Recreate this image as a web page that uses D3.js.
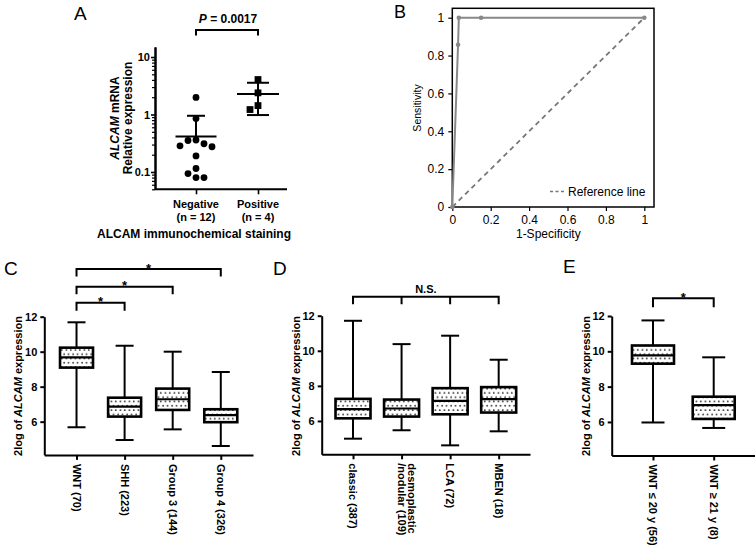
<!DOCTYPE html>
<html><head><meta charset="utf-8">
<script src="https://cdn.jsdelivr.net/npm/d3@7"></script>
<style>body{margin:0;background:#fff}svg{display:block}</style>
</head><body>
<svg id="fig" width="755" height="546"></svg>
<script>
// ---------------- DATA ----------------
// Panel A
const aGroups = ["Negative", "Positive"];
const aGroupN = ["(n = 12)", "(n = 4)"];
const aNegative = [1.98, 0.85, 0.353, 0.285, 0.275, 0.31, 0.36, 0.19, 0.115, 0.094, 0.08, 0.08];
const aPositive = [4.06, 2.38, 1.43, 1.22];
const aYTicks = [0.1, 1, 10];
const aPText = "0.0017";
// Panel B
const rocFPR = [0, 0.03, 0.034, 0.15, 1];
const rocTPR = [0, 0.857, 1, 1, 1];
const rocTicks = [0, 0.2, 0.4, 0.6, 0.8, 1];
// Panel C
const cCats = ["WNT (70)", "SHH (223)", "Group 3 (144)", "Group 4 (326)"];
const cMin = [5.68, 4.95, 5.56, 4.61];
const cQ1  = [9.09, 6.29, 6.67, 5.97];
const cMed = [9.68, 6.86, 7.28, 6.37];
const cQ3  = [10.23, 7.37, 7.89, 6.71];
const cMax = [11.68, 10.34, 10.0, 8.84];
// Panel D
const dCats = ["classic (387)", "desmoplastic\n/nodular (109)", "LCA (72)", "MBEN (18)"];
const dMin = [4.99, 5.47, 4.61, 5.41];
const dQ1  = [6.15, 6.25, 6.38, 6.48];
const dMed = [6.67, 6.71, 7.14, 7.24];
const dQ3  = [7.26, 7.22, 7.87, 7.93];
const dMax = [11.71, 10.38, 10.86, 9.49];
// Panel E
const eCats = ["WNT \u2264 20 y (56)", "WNT \u2265 21 y (8)"];
const eMin = [5.97, 5.66];
const eQ1  = [9.30, 6.17];
const eMed = [9.77, 6.95];
const eQ3  = [10.33, 7.43];
const eMax = [11.75, 9.66];
const boxYTicks = [6, 8, 10, 12];

// ---------------- DRAWING ----------------
const FONT = '"Liberation Sans", Arial, Helvetica, sans-serif';
const svg = d3.select("#fig").attr("font-family", FONT);

const defs = svg.append("defs");
const pat = defs.append("pattern").attr("id", "dots").attr("patternUnits", "userSpaceOnUse")
  .attr("width", 4.5).attr("height", 8.6);
pat.append("rect").attr("width", 4.5).attr("height", 8.6).attr("fill", "#fff");
pat.append("circle").attr("cx", 1.1).attr("cy", 1.6).attr("r", 0.8).attr("fill", "#111");
pat.append("circle").attr("cx", 3.35).attr("cy", 5.9).attr("r", 0.8).attr("fill", "#111");

function styleAxis(g, fs, bold, sw, tsw) {
  g.attr("font-family", FONT);
  g.selectAll("text").attr("font-size", fs).attr("font-weight", bold ? "bold" : "normal").attr("fill", "#000");
  g.select(".domain").attr("stroke-width", sw).attr("stroke", "#000");
  g.selectAll(".tick line").attr("stroke-width", tsw).attr("stroke", "#000");
}
function panelLabel(t, x, y, size) {
  svg.append("text").attr("x", x).attr("y", y).attr("font-size", size || 19).text(t);
}

// ===== Panel A =====
panelLabel("A", 74, 20, 19);
const gA = svg.append("g");
const ay = d3.scaleLog().domain([0.05, 15]).range([189.3, 46.9]);
const ax = d3.scalePoint().domain(aGroups).range([196, 258]);
const isMajor = t => aYTicks.some(m => Math.abs(m - t) / m < 1e-6);
const gAminor = gA.append("g").attr("transform", "translate(155,0)")
  .call(d3.axisLeft(ay).tickValues(ay.ticks().filter(t => !isMajor(t))).tickSize(3).tickSizeOuter(0).tickFormat(""));
styleAxis(gAminor, 11, true, 2, 1.2);
const gAmajor = gA.append("g").attr("transform", "translate(155,0)")
  .call(d3.axisLeft(ay).tickValues(aYTicks).tickSize(4).tickPadding(1).tickSizeOuter(0).tickFormat(d => String(d)));
styleAxis(gAmajor, 11, true, 2, 1.6);
const gAx = gA.append("g").attr("transform", "translate(0,189.3)")
  .call(d3.axisBottom(ax).tickSize(5).tickSizeOuter(0).tickFormat(""));
gAx.select(".domain").remove();
styleAxis(gAx, 11, true, 2, 1.6);
gA.append("line").attr("x1", 155).attr("x2", 287).attr("y1", 189.3).attr("y2", 189.3)
  .attr("stroke", "#000").attr("stroke-width", 2);
aGroups.forEach((g, i) => {
  gA.append("text").attr("x", ax(g)).attr("y", 208).attr("text-anchor", "middle")
    .attr("font-size", 11).attr("font-weight", "bold").text(g);
  gA.append("text").attr("x", ax(g)).attr("y", 220.5).attr("text-anchor", "middle")
    .attr("font-size", 11).attr("font-weight", "bold").text(aGroupN[i]);
});
const aXT = gA.append("text").attr("x", 194).attr("y", 238).attr("text-anchor", "middle")
  .attr("font-size", 12).attr("font-weight", "bold");
aXT.append("tspan").text("ALCAM immunochemical staining");
const aYT = gA.append("text").attr("transform", "translate(121,118) rotate(-90)")
  .attr("text-anchor", "middle").attr("font-size", 12).attr("font-weight", "bold");
const l1 = aYT.append("tspan").attr("x", 0).attr("dy", "-0.15em");
l1.append("tspan").attr("font-style", "italic").text("ALCAM");
l1.append("tspan").text(" mRNA");
aYT.append("tspan").attr("x", 0).attr("dy", "1.05em").text("Relative expression");

function swarm(values, cx, scale, step, thr) {
  const order = values.slice().sort((a, b) => b - a);
  const placed = [];
  const cands = [0, -1, 1, -2, 2, -3, 3];
  order.forEach(v => {
    const y = scale(v);
    for (const c of cands) {
      const x = cx + c * step;
      if (!placed.some(p => Math.abs(p.x - x) < step * 0.9 && Math.abs(p.y - y) < thr)) {
        placed.push({ x, y, v }); break;
      }
    }
  });
  return placed;
}
function meanSD(vals, cx, halfMean, halfCap) {
  const m = d3.mean(vals), s = d3.deviation(vals);
  const hi = m + s, lo = m - s;
  const yLo = lo > ay.domain()[0] ? ay(lo) : ay(m);
  gA.append("line").attr("x1", cx).attr("x2", cx).attr("y1", ay(hi)).attr("y2", yLo)
    .attr("stroke", "#000").attr("stroke-width", 2);
  gA.append("line").attr("x1", cx - halfMean).attr("x2", cx + halfMean).attr("y1", ay(m)).attr("y2", ay(m))
    .attr("stroke", "#000").attr("stroke-width", 2);
  gA.append("line").attr("x1", cx - halfCap).attr("x2", cx + halfCap).attr("y1", ay(hi)).attr("y2", ay(hi))
    .attr("stroke", "#000").attr("stroke-width", 2);
  if (lo > ay.domain()[0]) {
    gA.append("line").attr("x1", cx - halfCap).attr("x2", cx + halfCap).attr("y1", ay(lo)).attr("y2", ay(lo))
      .attr("stroke", "#000").attr("stroke-width", 2);
  }
}
swarm(aNegative, ax("Negative"), ay, 8, 7).forEach(p => {
  gA.append("circle").attr("cx", p.x).attr("cy", p.y).attr("r", 3.4).attr("fill", "#000");
});
swarm(aPositive, ax("Positive"), ay, 8, 7).forEach(p => {
  gA.append("rect").attr("x", p.x - 3.4).attr("y", p.y - 3.4).attr("width", 6.8).attr("height", 6.8).attr("fill", "#000");
});
meanSD(aNegative, ax("Negative"), 20.5, 9);
meanSD(aPositive, ax("Positive"), 21, 11);
gA.append("path").attr("d", `M${ax("Negative")},35.5V30H${ax("Positive")}V35.5`)
  .attr("fill", "none").attr("stroke", "#000").attr("stroke-width", 2);
const pt = gA.append("text").attr("x", (ax("Negative") + ax("Positive")) / 2 + 1).attr("y", 23)
  .attr("text-anchor", "middle").attr("font-size", 12).attr("font-weight", "bold");
pt.append("tspan").attr("font-style", "italic").text("P");
pt.append("tspan").text(" = " + aPText);

// ===== Panel B =====
panelLabel("B", 394, 18, 18);
const gB = svg.append("g");
const bx = d3.scaleLinear().domain([0, 1]).range([452.3, 644.3]);
const by = d3.scaleLinear().domain([0, 1]).range([207, 17.7]);
gB.append("rect").attr("x", bx(0)).attr("y", 8.3).attr("width", 654 - bx(0)).attr("height", by(0) - 8.3)
  .attr("fill", "none").attr("stroke", "#000").attr("stroke-width", 1.5);
const gBx = gB.append("g").attr("transform", `translate(0,${by(0)})`)
  .call(d3.axisBottom(bx).tickValues(rocTicks).tickSize(4).tickPadding(4).tickFormat(d => String(d)));
gBx.select(".domain").remove();
styleAxis(gBx, 12, false, 1.5, 1.2);
const gBy = gB.append("g").attr("transform", `translate(${bx(0)},0)`)
  .call(d3.axisLeft(by).tickValues(rocTicks).tickSize(4).tickPadding(4).tickFormat(d => String(d)));
gBy.select(".domain").remove();
styleAxis(gBy, 12, false, 1.5, 1.2);
gB.append("line").attr("x1", bx(0)).attr("y1", by(0)).attr("x2", bx(1)).attr("y2", by(1))
  .attr("stroke", "#777").attr("stroke-width", 1.8).attr("stroke-dasharray", "5,4");
const rocPts = rocFPR.map((f, i) => [f, rocTPR[i]]);
gB.append("path").datum(rocPts).attr("d", d3.line().x(d => bx(d[0])).y(d => by(d[1])))
  .attr("fill", "none").attr("stroke", "#888").attr("stroke-width", 2);
gB.selectAll("circle.roc").data(rocPts).join("circle").attr("class", "roc")
  .attr("cx", d => bx(d[0])).attr("cy", d => by(d[1])).attr("r", 2.3).attr("fill", "#888");
gB.append("text").attr("transform", "translate(417,108) rotate(-90)").attr("text-anchor", "middle")
  .attr("dominant-baseline", "central").attr("font-size", 10.5).text("Sensitivity");
gB.append("text").attr("x", (bx(0) + bx(1)) / 2).attr("y", 238).attr("text-anchor", "middle")
  .attr("font-size", 12).text("1-Specificity");
gB.append("line").attr("x1", 550).attr("x2", 564).attr("y1", 191.5).attr("y2", 191.5)
  .attr("stroke", "#777").attr("stroke-width", 1.6).attr("stroke-dasharray", "3,2.5");
gB.append("text").attr("x", 568).attr("y", 195.8).attr("font-size", 12).text("Reference line");

// ===== Box panels =====
function boxPanel(o) {
  const g = svg.append("g");
  const y = d3.scaleLinear().domain([4.1, 12]).range([o.yBottom, o.y12]);
  const x = d3.scalePoint().domain(o.cats).range([o.axisX, o.axisEnd]).padding(o.pad);
  const gy = g.append("g").attr("transform", `translate(${o.axisX},0)`)
    .call(d3.axisLeft(y).tickValues(boxYTicks).tickSize(4).tickPadding(3).tickSizeOuter(0));
  styleAxis(gy, 11, true, 2, 2);
  const gx = g.append("g").attr("transform", `translate(0,${o.yBottom})`)
    .call(d3.axisBottom(x).tickSize(5).tickSizeOuter(0).tickFormat(""));
  styleAxis(gx, 11, true, 2, 2);
  o.cats.forEach((c, i) => {
    const cx = x(c);
    g.append("line").attr("x1", cx).attr("x2", cx).attr("y1", y(o.max[i])).attr("y2", y(o.min[i]))
      .attr("stroke", "#000").attr("stroke-width", 2);
    [o.max[i], o.min[i]].forEach(v => {
      g.append("line").attr("x1", cx - o.capW / 2).attr("x2", cx + o.capW / 2).attr("y1", y(v)).attr("y2", y(v))
        .attr("stroke", "#000").attr("stroke-width", 2);
    });
    g.append("rect").attr("x", cx - o.boxW / 2).attr("y", y(o.q3[i])).attr("width", o.boxW)
      .attr("height", y(o.q1[i]) - y(o.q3[i])).attr("fill", "url(#dots)").attr("stroke", "#000").attr("stroke-width", 2.6);
    g.append("line").attr("x1", cx - o.boxW / 2).attr("x2", cx + o.boxW / 2).attr("y1", y(o.med[i])).attr("y2", y(o.med[i]))
      .attr("stroke", "#000").attr("stroke-width", 2.2);
    const lines = c.split("\n");
    const t = g.append("text").attr("transform", `translate(${cx},${o.yBottom + 9}) rotate(90)`)
      .attr("font-size", 11).attr("font-weight", "bold").attr("dominant-baseline", "central");
    lines.forEach((ln, k) => {
      t.append("tspan").attr("x", 0).attr("y", -(lines.length - 1 - k) * 10.5).text(ln);
    });
  });
  const yl = g.append("text").attr("transform", `translate(${o.axisX - 26},386) rotate(-90)`)
    .attr("text-anchor", "middle").attr("dominant-baseline", "central").attr("font-size", 11).attr("font-weight", "bold");
  yl.append("tspan").text("2log of ");
  yl.append("tspan").attr("font-style", "italic").text("ALCAM");
  yl.append("tspan").text(" expression");
  o.brackets.forEach(b => {
    const xs = b.cats.map(k => x(o.cats[k]));
    let d = `M${xs[0]},${b.y + b.drop}V${b.y}H${xs[xs.length - 1]}V${b.y + b.drop}`;
    xs.slice(1, -1).forEach(xx => { d += `M${xx},${b.y}V${b.y + b.drop}`; });
    g.append("path").attr("d", d).attr("fill", "none").attr("stroke", "#000").attr("stroke-width", 2);
    const mid = (xs[0] + xs[xs.length - 1]) / 2;
    if (b.label === "*") {
      g.append("text").attr("x", mid).attr("y", b.y + 3.5).attr("text-anchor", "middle")
        .attr("font-size", 13).attr("font-weight", "bold").text("*");
    } else {
      g.append("text").attr("x", mid).attr("y", b.y - 4).attr("text-anchor", "middle")
        .attr("font-size", 11).attr("font-weight", "bold").text(b.label);
    }
  });
}

panelLabel("C", 4, 275, 19);
boxPanel({ cats: cCats, min: cMin, q1: cQ1, med: cMed, q3: cQ3, max: cMax,
  axisX: 44.3, axisEnd: 253, pad: 0.67, yBottom: 454.9, y12: 316.7, boxW: 33, capW: 18,
  brackets: [{ cats: [0, 1], y: 302.7, drop: 8, label: "*" },
             { cats: [0, 2], y: 286.7, drop: 7.5, label: "*" },
             { cats: [0, 3], y: 269, drop: 7.5, label: "*" }] });

panelLabel("D", 273, 275, 19);
boxPanel({ cats: dCats, min: dMin, q1: dQ1, med: dMed, q3: dQ3, max: dMax,
  axisX: 321.7, axisEnd: 530, pad: 0.645, yBottom: 454.3, y12: 315.7, boxW: 35, capW: 18,
  brackets: [{ cats: [0, 1, 2, 3], y: 296.7, drop: 7.6, label: "N.S." }] });

panelLabel("E", 563, 273, 19);
boxPanel({ cats: eCats, min: eMin, q1: eQ1, med: eMed, q3: eQ3, max: eMax,
  axisX: 611.7, axisEnd: 755, pad: 0.68, yBottom: 455.5, y12: 316, boxW: 42, capW: 23,
  brackets: [{ cats: [0, 1], y: 298.3, drop: 9, label: "*" }] });
</script>
</body></html>
